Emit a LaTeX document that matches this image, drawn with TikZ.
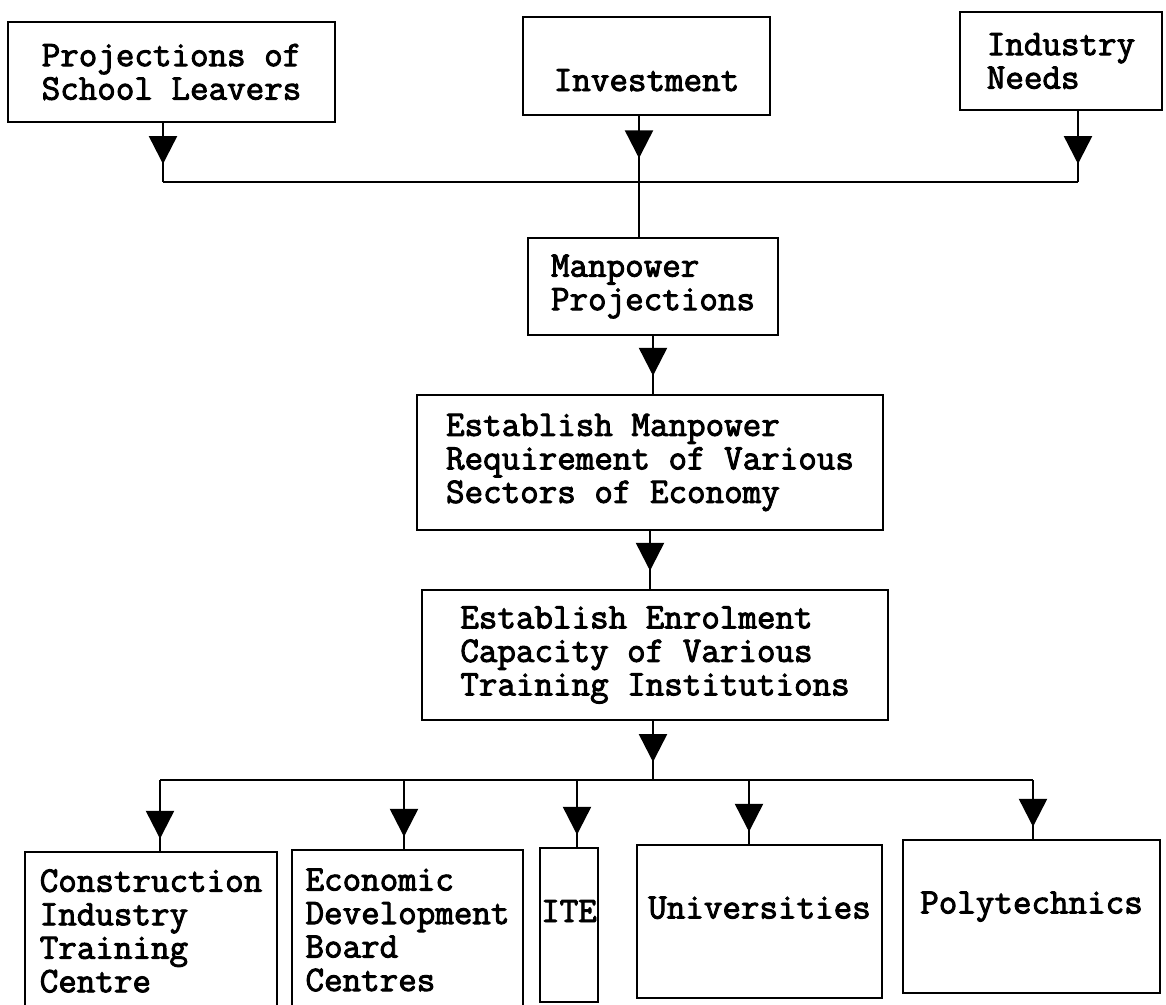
\documentclass[tikz,border=0pt]{standalone}
\usepackage{fontspec}
\setmonofont{Latin Modern Mono}[AutoFakeBold=2.6]
\usetikzlibrary{arrows.meta,decorations.markings}
\tikzset{
  box/.style={draw,line width=2.5pt,inner sep=0pt,align=left,
    font=\ttfamily\bfseries\fontsize{36}{33.5}\selectfont},
  raised/.style={text height=25pt,text depth=31pt},
  link/.style={line width=2.5pt},
  flow/.style={link,postaction={decorate},decoration={markings,
    mark=at position #1 with {\arrow{Triangle[length=28pt,width=28pt]}}}},
  flow/.default=-18pt
}

\begin{document}
\begin{tikzpicture}[x=1pt,y=-1pt]
  \clip (0,0) rectangle (1166,1004);
  % inputs
  \node[box,align=center,minimum width=327pt,minimum height=100pt] (proj) at (171.5,72) {Projections of\\School Leavers};
  \node[box,minimum width=247pt,minimum height=98pt,text height=59pt,text depth=9pt] (inv) at (646.5,66) {Investment};
  \node[box,minimum width=202pt,minimum height=98pt] (ind) at (1061,61) {Industry\\Needs};
  % middle column
  \node[box,minimum width=250pt,minimum height=97pt] (mpp) at (653,286.5) {Manpower\\Projections};
  \node[box,minimum width=466pt,minimum height=135pt] (emr) at (650,462.5) {Establish Manpower\\Requirement of Various\\Sectors of Economy};
  \node[box,minimum width=466pt,minimum height=130pt] (eec) at (655,655) {Establish Enrolment\\Capacity of Various\\Training Institutions};
  % institutions
  \foreach \pos/\name/\w/\h/\opt/\txt in {
      {(151,931)/citc/252/158/{}/{Construction\\Industry\\Training\\Centre}},
      {(407.5,930)/edb/231/160/{}/{Economic\\Development\\Board\\Centres}},
      {(569,925)/ite/58/154/raised/{ITE}},
      {(759.5,921.5)/uni/245/153/raised/{Universities}},
      {(1031.5,916.5)/poly/257/153/raised/{Polytechnics}}}
    \node[box,minimum width=\w pt,minimum height=\h pt,\opt] (\name) at \pos {\txt};

  % joins
  \coordinate (jl) at (163,182);
  \coordinate (jm) at (639,182);
  \coordinate (jr) at (1078,182);
  \coordinate (bm) at (653,780);
  \draw[flow] (proj.south -| jl) -- (jl);
  \draw[flow] (ind.south -| jr) -- (jr);
  \draw[link] (jl) -- (jr);
  \draw[flow=42pt] (inv.south -| jm) -- (mpp.north -| jm);
  \draw[flow] (mpp.south) -- (mpp.south |- emr.north);
  \draw[flow] (emr.south) -- (emr.south |- eec.north);
  \draw[flow] (eec.south -| bm) -- (bm);
  \foreach \x/\name in {160/citc, 404/edb, 577/ite, 749/uni, 1033/poly}{
    \coordinate (t\name) at (\x,780);
    \draw[flow=-12pt] (t\name) -- (t\name |- \name.north);
  }
  \draw[link] (tcitc) -- (tpoly);
\end{tikzpicture}
\end{document}
